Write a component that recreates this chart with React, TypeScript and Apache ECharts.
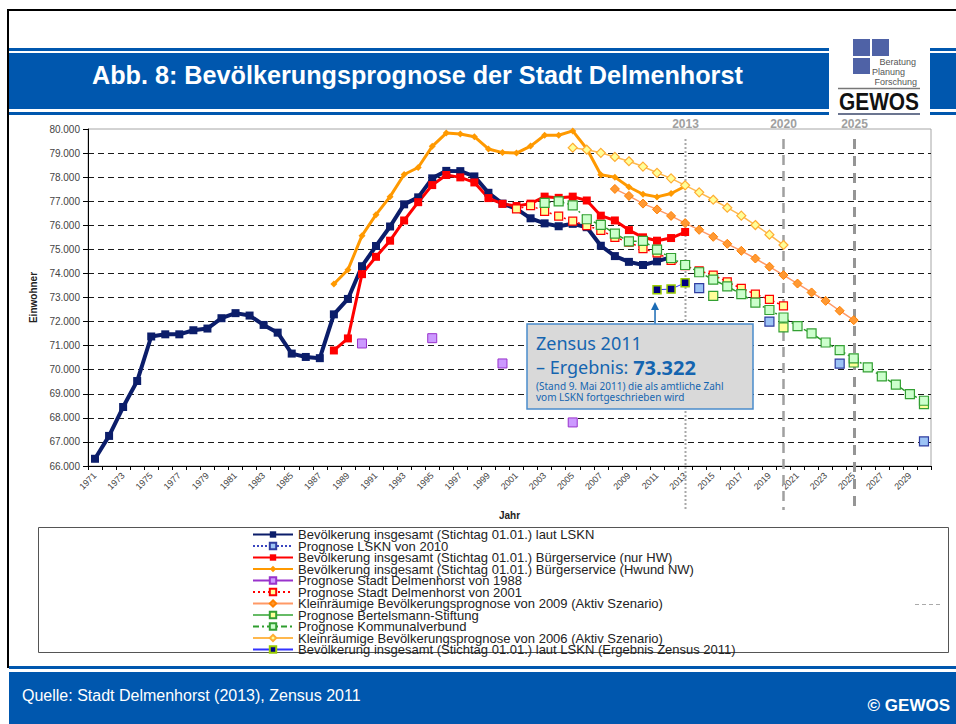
import React, { useEffect, useRef } from 'react';
import * as echarts from 'echarts';

const FONT = "'Liberation Sans', Arial, sans-serif";
const NOTO = "'Noto Sans', 'DejaVu Sans', sans-serif";

const years = [
  '1971', '1972', '1973', '1974', '1975', '1976', '1977', '1978', '1979', '1980',
  '1981', '1982', '1983', '1984', '1985', '1986', '1987', '1988', '1989', '1990',
  '1991', '1992', '1993', '1994', '1995', '1996', '1997', '1998', '1999', '2000',
  '2001', '2002', '2003', '2004', '2005', '2006', '2007', '2008', '2009', '2010',
  '2011', '2012', '2013', '2014', '2015', '2016', '2017', '2018', '2019', '2020',
  '2021', '2022', '2023', '2024', '2025', '2026', '2027', '2028', '2029', '2030',
];

const yTicks = { min: 66000, max: 80000, step: 1000 };

// Bevölkerung insgesamt (Stichtag 01.01.) laut LSKN
const lsknYears = [
  1971, 1972, 1973, 1974, 1975, 1976, 1977, 1978, 1979, 1980, 1981, 1982, 1983, 1984,
  1985, 1986, 1987, 1988, 1989, 1990, 1991, 1992, 1993, 1994, 1995, 1996, 1997, 1998,
  1999, 2000, 2001, 2002, 2003, 2004, 2005, 2006, 2007, 2008, 2009, 2010, 2011, 2012,
];
const lsknValues = [
  66300, 67250, 68450, 69530, 71380, 71470, 71470, 71640, 71710, 72140, 72350, 72250, 71860, 71540,
  70670, 70530, 70480, 72300, 72940, 74300, 75140, 75950, 76870, 77160, 77950, 78260, 78250, 78030,
  77350, 76900, 76680, 76290, 76080, 75960, 76060, 75920, 75150, 74720, 74480, 74350, 74500, 74680,
];

// Prognose LSKN von 2010
const lskn2010Years = [2014, 2019, 2024, 2030];
const lskn2010Values = [73390, 72000, 70250, 67020];

// Bürgerservice (nur HW)
const hwYears = [
  1988, 1989, 1990, 1991, 1992, 1993, 1994, 1995, 1996, 1997, 1998, 1999, 2000,
  2001, 2002, 2003, 2004, 2005, 2006, 2007, 2008, 2009, 2010, 2011, 2012, 2013,
];
const hwValues = [
  70800, 71300, 73970, 74690, 75360, 76200, 76960, 77670, 78090, 77990, 77780, 77130, 76890,
  76800, 76900, 77190, 77140, 77190, 77030, 76400, 76200, 75800, 75500, 75360, 75470, 75720,
];

// Bürgerservice (Hw und NW)
const hwNwYears = [
  1988, 1989, 1990, 1991, 1992, 1993, 1994, 1995, 1996, 1997, 1998, 1999, 2000,
  2001, 2002, 2003, 2004, 2005, 2006, 2007, 2008, 2009, 2010, 2011, 2012, 2013,
];
const hwNwValues = [
  73560, 74150, 75570, 76440, 77190, 78110, 78400, 79280, 79830, 79790, 79680, 79170, 79020,
  79000, 79290, 79740, 79740, 79920, 79180, 78100, 78000, 77590, 77290, 77180, 77320, 77620,
];

// Prognose Stadt Delmenhorst von 1988
const p1988Years = [1990, 1995, 2000, 2005];
const p1988Values = [71090, 71310, 70260, 67810];

// Prognose Stadt Delmenhorst von 2001
const p2001Years = [
  2001, 2002, 2003, 2004, 2005, 2006, 2007, 2008, 2009, 2010,
  2011, 2012, 2013, 2014, 2015, 2016, 2017, 2018, 2019, 2020,
];
const p2001Values = [
  76680, 76820, 76580, 76380, 76170, 75990, 75790, 75500, 75300, 75030,
  74850, 74540, 74320, 74110, 73930, 73650, 73380, 73140, 72920, 72650,
];

// Kleinräumige Bevölkerungsprognose von 2009 (Aktiv Szenario)
const k2009Years = [
  2008, 2009, 2010, 2011, 2012, 2013, 2014, 2015, 2016,
  2017, 2018, 2019, 2020, 2021, 2022, 2023, 2024, 2025,
];
const k2009Values = [
  77510, 77220, 76900, 76660, 76390, 76090, 75810, 75520, 75230,
  74940, 74620, 74280, 73930, 73580, 73210, 72860, 72450, 72060,
];

// Prognose Bertelsmann-Stiftung
const bertelsmannYears = [2015, 2020, 2025, 2030];
const bertelsmannValues = [73070, 71760, 70300, 68570];

// Prognose Kommunalverbund
const kvYears = [
  2003, 2004, 2005, 2006, 2007, 2008, 2009, 2010, 2011, 2012, 2013, 2014, 2015, 2016,
  2017, 2018, 2019, 2020, 2021, 2022, 2023, 2024, 2025, 2026, 2027, 2028, 2029, 2030,
];
const kvValues = [
  76930, 76990, 76830, 76250, 76020, 75650, 75330, 75350, 74990, 74640, 74350, 74050, 73740, 73460,
  73140, 72790, 72480, 72170, 71810, 71510, 71130, 70810, 70470, 70100, 69720, 69380, 68990, 68710,
];

// Kleinräumige Bevölkerungsprognose von 2006 (Aktiv Szenario)
const k2006Years = [
  2005, 2006, 2007, 2008, 2009, 2010, 2011, 2012,
  2013, 2014, 2015, 2016, 2017, 2018, 2019, 2020,
];
const k2006Values = [
  79220, 79140, 79010, 78840, 78660, 78440, 78180, 77950,
  77660, 77370, 77060, 76730, 76400, 76010, 75610, 75180,
];

// Bevölkerung laut LSKN (Ergebnis Zensus 2011)
const zensusYears = [2011, 2012, 2013];
const zensusValues = [73322, 73350, 73610];

const markerYears = ['2013', '2020', '2025'];

function toSeriesData(yrs: number[], vals: number[]) {
  const m = new Map<string, number>();
  yrs.forEach((y, i) => m.set(String(y), vals[i]));
  return years.map((c) => (m.has(c) ? (m.get(c) as number) : null));
}

function fmt(v: number) {
  return String(v).replace(/\B(?=(\d{3})+(?!\d))/g, '.');
}

function line(name: string, yrs: number[], vals: number[], o: any) {
  return {
    type: 'line',
    name,
    data: toSeriesData(yrs, vals),
    connectNulls: false,
    showAllSymbol: true,
    symbol: o.symbol,
    symbolSize: o.size,
    lineStyle: { color: o.line, width: o.width, type: o.type || 'solid' },
    itemStyle: { color: o.fill, borderColor: o.border || o.fill, borderWidth: o.bw || 0 },
    emphasis: { disabled: true },
    z: o.z || 2,
  };
}

const seriesList = [
  line('Bevölkerung insgesamt (Stichtag 01.01.) laut LSKN', lsknYears, lsknValues,
    { symbol: 'rect', size: 8, line: '#0b1d6a', width: 4, fill: '#0b1d6a' }),
  line('Prognose LSKN von 2010', lskn2010Years, lskn2010Values,
    { symbol: 'rect', size: 9, line: '#3a46c0', width: 1.5, type: 'dotted', fill: '#9cc3f5', border: '#2f3da0', bw: 1.2 }),
  line('Bevölkerung insgesamt (Stichtag 01.01.) Bürgerservice (nur HW)', hwYears, hwValues,
    { symbol: 'rect', size: 8, line: '#ff0000', width: 3, fill: '#ff0000' }),
  line('Bevölkerung insgesamt (Stichtag 01.01.) Bürgerservice (Hwund NW)', hwNwYears, hwNwValues,
    { symbol: 'diamond', size: 7, line: '#ff9900', width: 3, fill: '#ff9900' }),
  line('Prognose Stadt Delmenhorst von 1988', p1988Years, p1988Values,
    { symbol: 'rect', size: 9, line: '#9933cc', width: 1, fill: '#cc99ff', border: '#9933cc', bw: 1 }),
  line('Prognose Stadt Delmenhorst von 2001', p2001Years, p2001Values,
    { symbol: 'rect', size: 8, line: '#ff0000', width: 1.5, type: [2, 3], fill: '#ffff99', border: '#ff0000', bw: 1.2 }),
  line('Kleinräumige Bevölkerungsprognose von 2009 (Aktiv Szenario)', k2009Years, k2009Values,
    { symbol: 'diamond', size: 9, line: '#ff9966', width: 1.5, fill: '#ff9933', border: '#ff8000', bw: 1 }),
  line('Prognose Bertelsmann-Stiftung', bertelsmannYears, bertelsmannValues,
    { symbol: 'rect', size: 9, line: '#66bb66', width: 1, fill: '#ffff99', border: '#33a033', bw: 1.2 }),
  line('Prognose Kommunalverbund', kvYears, kvValues,
    { symbol: 'rect', size: 9, line: '#2e9e2e', width: 1.5, type: [6, 3, 2, 3], fill: '#ccffcc', border: '#33a033', bw: 1.2 }),
  line('Kleinräumige Bevölkerungsprognose von 2006 (Aktiv Szenario)', k2006Years, k2006Values,
    { symbol: 'diamond', size: 9, line: '#ffb84d', width: 1.5, fill: '#ffff99', border: '#ffad33', bw: 1.2 }),
  line('Bevölkerung insgesamt (Stichtag 01.01.) laut LSKN (Ergebnis Zensus 2011)', zensusYears, zensusValues,
    { symbol: 'rect', size: 8, line: '#3333ff', width: 1, fill: '#000080', border: '#99cc00', bw: 1.5 }),
];

const BLUE = '#0057ae';

function buildGraphics(px: (y: string) => number) {
  const g: any[] = [];
  // frame
  g.push({ type: 'rect', z: 20, shape: { x: 7, y: 9, width: 949, height: 2 }, style: { fill: '#000' } });
  g.push({ type: 'rect', z: 20, shape: { x: 7, y: 9, width: 2, height: 659 }, style: { fill: '#000' } });
  // header bands
  [[9, 820], [930, 26]].forEach(([x, w]) => {
    g.push({ type: 'rect', z: 20, shape: { x, y: 48, width: w, height: 3 }, style: { fill: BLUE } });
    g.push({ type: 'rect', z: 20, shape: { x, y: 53, width: w, height: 56 }, style: { fill: BLUE } });
    g.push({ type: 'rect', z: 20, shape: { x, y: 112, width: w, height: 3 }, style: { fill: BLUE } });
  });
  g.push({
    type: 'text', z: 21, x: 92, y: 75,
    style: { text: 'Abb. 8: Bevölkerungsprognose der Stadt Delmenhorst', fill: '#fff', font: `bold 25.2px ${FONT}`, align: 'left', verticalAlign: 'middle' },
  });
  // logo
  g.push({ type: 'rect', z: 20, shape: { x: 853, y: 39, width: 17, height: 17 }, style: { fill: '#4f62a6' } });
  g.push({ type: 'rect', z: 20, shape: { x: 872, y: 39, width: 17, height: 17 }, style: { fill: '#4f62a6' } });
  g.push({ type: 'rect', z: 20, shape: { x: 853, y: 58, width: 17, height: 16 }, style: { fill: '#4f62a6' } });
  g.push({ type: 'text', z: 20, x: 916, y: 62, style: { text: 'Beratung', fill: '#555', font: `9px ${FONT}`, align: 'right', verticalAlign: 'middle' } });
  g.push({ type: 'text', z: 20, x: 872, y: 72, style: { text: 'Planung', fill: '#555', font: `9px ${FONT}`, align: 'left', verticalAlign: 'middle' } });
  g.push({ type: 'text', z: 20, x: 917, y: 82, style: { text: 'Forschung', fill: '#555', font: `9px ${FONT}`, align: 'right', verticalAlign: 'middle' } });
  g.push({ type: 'line', z: 20, shape: { x1: 838, y1: 88.5, x2: 920, y2: 88.5 }, style: { stroke: '#777', lineWidth: 1.5 } });
  g.push({
    type: 'text', z: 20, x: 879, y: 102, scaleX: 0.87,
    style: { text: 'GEWOS', fill: '#111', font: `bold 24px ${FONT}`, align: 'center', verticalAlign: 'middle' },
  });
  g.push({ type: 'line', z: 20, shape: { x1: 838, y1: 114, x2: 920, y2: 114 }, style: { stroke: '#6b7590', lineWidth: 2 } });
  // footer
  g.push({ type: 'rect', z: 20, shape: { x: 9, y: 666, width: 947, height: 3 }, style: { fill: BLUE } });
  g.push({ type: 'rect', z: 20, shape: { x: 9, y: 672, width: 947, height: 52 }, style: { fill: BLUE } });
  g.push({ type: 'text', z: 21, x: 22, y: 695, style: { text: 'Quelle: Stadt Delmenhorst (2013), Zensus 2011', fill: '#fff', font: `16px ${FONT}`, align: 'left', verticalAlign: 'middle' } });
  g.push({ type: 'text', z: 21, x: 950, y: 705, style: { text: '© GEWOS', fill: '#fff', font: `bold 17px ${FONT}`, align: 'right', verticalAlign: 'middle' } });
  // legend frame
  g.push({ type: 'rect', z: 1, shape: { x: 38.5, y: 527.5, width: 910, height: 125 }, style: { fill: 'none', stroke: '#555', lineWidth: 1 } });
  g.push({ type: 'line', z: 1, shape: { x1: 915, y1: 604.5, x2: 942, y2: 604.5 }, style: { stroke: '#aaa', lineWidth: 1, lineDash: [4, 3] } });
  // reference year lines
  const styles = [
    { dash: [2, 2], w: 2, c: '#a8a8a8' },
    { dash: [10, 6], w: 2.5, c: '#a0a0a0' },
    { dash: [10, 7], w: 3, c: '#959595' },
  ];
  markerYears.forEach((yr, i) => {
    const x = Math.round(px(yr)) + 0.5;
    const s = styles[i];
    g.push({ type: 'line', z: 1, shape: { x1: x, y1: 139, x2: x, y2: 510 }, style: { stroke: s.c, lineWidth: s.w, lineDash: s.dash } });
    g.push({ type: 'text', z: 1, x, y: 124, style: { text: yr, fill: '#a0a0a0', font: `bold 12px ${FONT}`, align: 'center', verticalAlign: 'middle' } });
  });
  // annotation
  const ax = px('2011') - 2;
  g.push({ type: 'line', z: 10, shape: { x1: ax, y1: 324, x2: ax, y2: 308 }, style: { stroke: '#1a6bb5', lineWidth: 1.5 } });
  g.push({ type: 'polygon', z: 10, shape: { points: [[ax - 4, 310], [ax + 4, 310], [ax, 302]] }, style: { fill: '#1a6bb5' } });
  g.push({ type: 'rect', z: 10, shape: { x: 527, y: 324, width: 226, height: 85 }, style: { fill: '#d9d9d9', stroke: '#4a8ccb', lineWidth: 1.5 } });
  g.push({ type: 'text', z: 11, x: 536, y: 343, style: { text: 'Zensus 2011', fill: '#1565b0', font: `18px ${NOTO}`, align: 'left', verticalAlign: 'middle' } });
  g.push({
    type: 'text', z: 11, x: 536, y: 367,
    style: {
      text: '{a|– Ergebnis: }{b|73.322}', align: 'left', verticalAlign: 'middle',
      rich: {
        a: { fill: '#1565b0', fontSize: 18, fontFamily: NOTO },
        b: { fill: '#1565b0', fontSize: 20, fontWeight: 'bold', fontFamily: NOTO },
      },
    },
  });
  g.push({
    type: 'text', z: 11, x: 536, y: 391.5,
    style: {
      text: '(Stand 9. Mai 2011) die als amtliche Zahl\nvom LSKN fortgeschrieben wird',
      fill: '#1565b0', font: `10px ${NOTO}`, lineHeight: 11, align: 'left', verticalAlign: 'middle',
    },
  });
  return g;
}

const option: any = {
  animation: false,
  backgroundColor: '#ffffff',
  textStyle: { fontFamily: FONT },
  grid: { left: 88, right: 25, top: 129, bottom: 258, show: true, borderColor: '#a6a6a6', borderWidth: 1, backgroundColor: 'transparent' },
  legend: {
    orient: 'vertical', left: 252, top: 528, padding: 0, itemWidth: 40, itemHeight: 8, itemGap: -1.5,
    selectedMode: false,
    textStyle: { fontSize: 13, color: '#222', lineHeight: 11, fontFamily: FONT },
    data: seriesList.map((s) => s.name),
  },
  xAxis: {
    type: 'category', data: years, boundaryGap: true,
    name: 'Jahr', nameLocation: 'middle', nameGap: 44,
    nameTextStyle: { fontSize: 10, fontWeight: 'bold', color: '#222' },
    axisLine: { lineStyle: { color: '#000', width: 1 } },
    axisTick: { show: true, interval: 0, length: 4, lineStyle: { color: '#000' } },
    axisLabel: { interval: 1, rotate: 45, fontSize: 9, color: '#444', margin: 8 },
    splitLine: { show: false },
  },
  yAxis: {
    type: 'value', min: yTicks.min, max: yTicks.max, interval: yTicks.step,
    name: 'Einwohner', nameLocation: 'middle', nameGap: 42, nameRotate: 90,
    nameTextStyle: { fontSize: 10, fontWeight: 'bold', color: '#222' },
    axisLine: { show: true, lineStyle: { color: '#000' } },
    axisTick: { show: true, length: 5, lineStyle: { color: '#000' } },
    axisLabel: { fontSize: 10, color: '#444', margin: 8, formatter: (v: number) => fmt(v) },
    splitLine: { show: true, showMinLine: false, showMaxLine: false, lineStyle: { color: '#1a1a1a', type: [6, 4], width: 1 } },
  },
  series: seriesList,
};

export default function App() {
  const ref = useRef<HTMLDivElement>(null);
  useEffect(() => {
    const chart = echarts.init(ref.current as HTMLDivElement, null, { renderer: 'svg' });
    chart.setOption(option);
    const px = (y: string) => chart.convertToPixel({ xAxisIndex: 0 }, y) as number;
    chart.setOption({ graphic: buildGraphics(px) });
    return () => chart.dispose();
  }, []);
  return <div ref={ref} style={{ position: 'absolute', left: 0, top: 0, width: 956, height: 724, background: '#fff' }} />;
}
